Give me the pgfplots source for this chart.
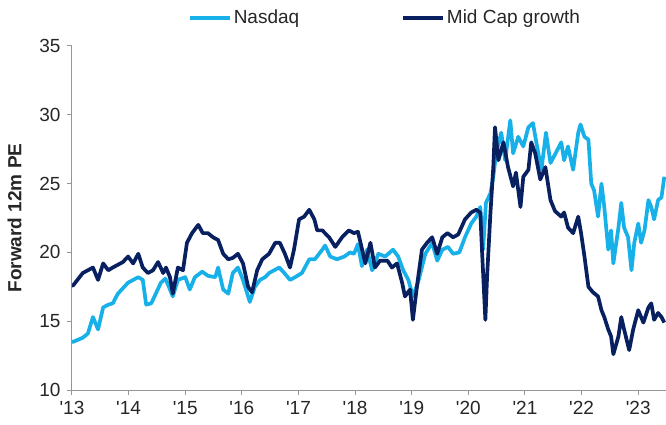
\documentclass[border=0pt]{standalone}
\usepackage{fontspec}
\setmainfont{Liberation Sans}
\usepackage{pgfplots}
\pgfplotsset{compat=1.18}
\definecolor{nasdaq}{RGB}{24,176,232}
\definecolor{midcap}{RGB}{8,32,96}
\definecolor{axisgray}{RGB}{150,150,150}

\begin{document}
\fontsize{19}{22}\selectfont
\begin{tikzpicture}
\begin{axis}[
  scale only axis,
  width=594pt, height=344pt,
  xmin=2013, xmax=2023.49,
  ymin=10, ymax=35,
  axis lines*=left,
  axis line style={axisgray, line width=1pt},
  tick style={axisgray, line width=1pt},
  tick align=outside,
  major tick length=5pt,
  xtick={2013,2014,...,2023},
  xticklabels={\textquotesingle13,\textquotesingle14,\textquotesingle15,\textquotesingle16,\textquotesingle17,\textquotesingle18,\textquotesingle19,\textquotesingle20,\textquotesingle21,\textquotesingle22,\textquotesingle23},
  ytick={10,15,...,35},
  /pgf/number format/assume math mode=true,
  tick label style={font=\fontsize{19}{22}\selectfont, text=black!85},
  ylabel={Forward 12m PE},
  ylabel style={font=\bfseries\fontsize{19}{22}\selectfont, text=black!85},
  ylabel shift=5pt,
  legend columns=2,
  legend style={draw=none, at={(0.527,1.081)}, anchor=center,
    font=\fontsize{19}{22}\selectfont, text=black!85,
    /tikz/every even column/.append style={column sep=100pt}},
  legend image code/.code={\draw[#1] (0pt,0pt) -- (40pt,0pt);},
]
\coordinate (sw) at (rel axis cs:0,0);
\coordinate (ne) at (rel axis cs:1,1);

\addplot[nasdaq, line width=3.7pt, line join=round] coordinates {
(2013.00,13.5) (2013.02,13.5) (2013.19,13.8) (2013.28,14.1) (2013.37,15.3)
(2013.46,14.4) (2013.55,16.0) (2013.64,16.2) (2013.72,16.3) (2013.81,17.0)
(2013.90,17.4) (2013.99,17.8) (2014.08,18.0) (2014.17,18.2) (2014.25,18.0)
(2014.31,16.2) (2014.40,16.3) (2014.48,17.0) (2014.57,17.8) (2014.65,18.1)
(2014.78,16.8) (2014.87,18.0) (2015.00,18.2) (2015.08,17.3) (2015.17,18.2)
(2015.30,18.6) (2015.40,18.3) (2015.53,18.2) (2015.58,18.9) (2015.67,17.3)
(2015.76,17.0) (2015.84,18.5) (2015.93,18.9) (2016.02,18.0) (2016.14,16.4)
(2016.23,17.5) (2016.32,18.0) (2016.41,18.2) (2016.48,18.5) (2016.57,18.7)
(2016.66,18.9) (2016.75,18.5) (2016.85,18.0) (2016.94,18.2) (2017.06,18.5)
(2017.19,19.5) (2017.29,19.5) (2017.42,20.2) (2017.47,20.5) (2017.56,19.7)
(2017.68,19.5) (2017.81,19.7) (2017.91,20.0) (2017.98,19.9) (2018.05,20.6)
(2018.12,19.0) (2018.21,20.2) (2018.30,18.7) (2018.41,19.9) (2018.53,19.7)
(2018.67,20.2) (2018.76,19.7) (2018.85,18.7) (2018.94,18.0) (2019.02,16.8)
(2019.11,17.8) (2019.24,19.9) (2019.36,20.7) (2019.45,19.4) (2019.54,20.2)
(2019.64,20.4) (2019.73,19.9) (2019.84,20.0) (2019.94,21.1) (2020.05,22.1)
(2020.14,22.6) (2020.21,23.3) (2020.26,20.2) (2020.31,23.6) (2020.39,24.3)
(2020.44,25.5) (2020.49,27.2) (2020.58,28.7) (2020.65,26.7) (2020.74,29.6)
(2020.79,27.2) (2020.88,28.4) (2020.97,27.7) (2021.06,29.1) (2021.14,29.4)
(2021.20,28.0) (2021.29,26.0) (2021.37,28.7) (2021.45,26.5) (2021.54,27.2)
(2021.64,28.0) (2021.69,26.7) (2021.76,27.7) (2021.85,26.0) (2021.94,28.7)
(2021.98,29.3) (2022.05,28.4) (2022.12,28.2) (2022.17,25.0) (2022.22,24.5)
(2022.29,22.6) (2022.35,25.0) (2022.40,23.3) (2022.47,20.2) (2022.52,21.6)
(2022.56,19.2) (2022.65,21.8) (2022.70,23.6) (2022.75,21.8) (2022.82,21.1)
(2022.88,18.7) (2022.93,20.7) (2023.00,22.1) (2023.05,20.7) (2023.11,21.6)
(2023.18,23.8) (2023.23,23.3) (2023.28,22.4) (2023.35,23.8) (2023.41,24.0)
(2023.46,25.5)
};
\addlegendentry{Nasdaq}

\addplot[midcap, line width=3.7pt, line join=round] coordinates {
(2013.00,17.6) (2013.02,17.6) (2013.19,18.5) (2013.37,18.9) (2013.46,18.0)
(2013.55,19.2) (2013.64,18.7) (2013.72,18.9) (2013.81,19.1) (2013.90,19.3)
(2013.99,19.7) (2014.08,19.2) (2014.17,19.9) (2014.25,18.9) (2014.34,18.5)
(2014.43,18.7) (2014.52,19.3) (2014.61,18.5) (2014.66,18.9) (2014.73,18.2)
(2014.78,17.0) (2014.87,18.9) (2014.96,18.7) (2015.03,20.7) (2015.12,21.4)
(2015.23,22.0) (2015.31,21.4) (2015.40,21.4) (2015.49,21.1) (2015.58,20.9)
(2015.67,19.9) (2015.76,19.5) (2015.84,19.6) (2015.93,19.9) (2016.02,19.2)
(2016.11,17.5) (2016.18,17.1) (2016.27,18.7) (2016.36,19.5) (2016.48,19.9)
(2016.59,20.7) (2016.67,20.7) (2016.76,19.9) (2016.85,18.9) (2016.92,20.2)
(2017.01,22.4) (2017.10,22.6) (2017.19,23.1) (2017.28,22.4) (2017.33,21.6)
(2017.42,21.6) (2017.54,21.1) (2017.65,20.4) (2017.77,21.1) (2017.89,21.6)
(2017.98,21.4) (2018.05,21.5) (2018.18,19.2) (2018.27,20.7) (2018.35,18.9)
(2018.44,19.4) (2018.57,19.4) (2018.65,18.9) (2018.74,19.2) (2018.83,17.8)
(2018.88,16.8) (2018.97,17.3) (2019.02,15.1) (2019.10,17.8) (2019.18,20.2)
(2019.27,20.7) (2019.36,21.1) (2019.45,19.9) (2019.54,21.1) (2019.63,21.4)
(2019.73,21.1) (2019.82,21.3) (2019.94,22.4) (2020.05,22.9) (2020.14,23.1)
(2020.21,22.9) (2020.24,20.2) (2020.30,15.1) (2020.33,18.2) (2020.39,22.9)
(2020.44,26.2) (2020.47,29.1) (2020.53,26.7) (2020.62,28.0) (2020.70,26.2)
(2020.79,24.8) (2020.84,25.8) (2020.92,23.3) (2020.97,25.5) (2021.06,26.0)
(2021.11,28.0) (2021.18,27.2) (2021.27,25.3) (2021.36,26.2) (2021.45,23.8)
(2021.53,23.0) (2021.64,22.6) (2021.69,22.9) (2021.76,21.8) (2021.85,21.4)
(2021.94,22.6) (2021.99,21.4) (2022.05,19.7) (2022.12,17.5) (2022.20,17.1)
(2022.29,16.8) (2022.35,15.8) (2022.40,15.3) (2022.47,14.4) (2022.52,13.9)
(2022.56,12.6) (2022.65,13.9) (2022.70,15.3) (2022.75,14.4) (2022.84,12.9)
(2022.91,14.4) (2023.00,15.8) (2023.09,14.9) (2023.18,16.0) (2023.23,16.3)
(2023.28,15.1) (2023.35,15.6) (2023.41,15.3) (2023.46,14.9)
};
\addlegendentry{Mid Cap growth}
\end{axis}
\pgfresetboundingbox
\path[use as bounding box] ([shift={(-72pt,-35pt)}]sw) rectangle ([shift={(0pt,46pt)}]ne);
\end{tikzpicture}
\end{document}
